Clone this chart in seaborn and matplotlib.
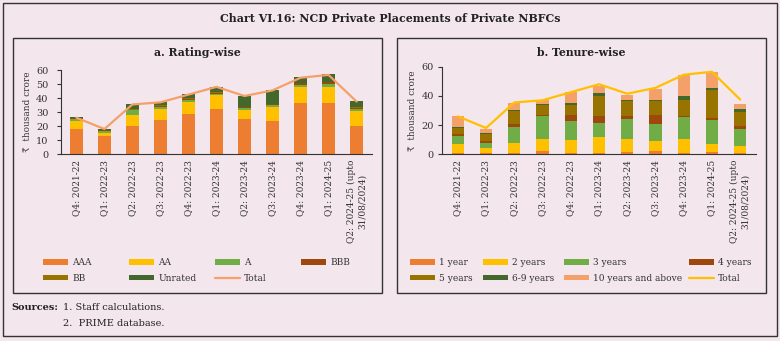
import numpy as np
import pandas as pd
import matplotlib
matplotlib.use("Agg")
import matplotlib.pyplot as plt
from matplotlib.patches import Rectangle, Patch
from matplotlib.lines import Line2D
import seaborn as sns

sns.set_theme(style="white")
plt.rcParams['font.family'] = ['DejaVu Serif', 'DejaVu Sans']

quarters = ["Q4: 2021-22", "Q1: 2022-23", "Q2: 2022-23", "Q3: 2022-23", "Q4: 2022-23",
            "Q1: 2023-24", "Q2: 2023-24", "Q3: 2023-24", "Q4: 2023-24", "Q1: 2024-25",
            "Q2: 2024-25 (upto\n31/08/2024)"]

# Panel a: rating-wise (₹ thousand crore)
aaa = [18.0, 13.0, 20.0, 24.5, 29.0, 32.0, 25.0, 24.0, 36.5, 36.5, 20.0]
aa = [5.5, 2.5, 8.0, 7.5, 8.0, 10.0, 6.7, 9.5, 11.5, 11.5, 11.0]
a_r = [1.5, 1.3, 3.5, 2.0, 2.0, 1.2, 1.2, 1.5, 1.3, 2.0, 1.3]
bbb = [0.5, 0.2, 0.3, 0.3, 0.3, 0.3, 0.5, 0.8, 1.2, 1.5, 0.8]
bb = [0.2, 0.2, 0.7, 0.5, 0.5, 1.0, 0.3, 0.3, 0.3, 0.3, 0.5]
unrated = [0.5, 0.8, 3.0, 2.5, 3.0, 3.5, 8.0, 9.5, 4.2, 5.2, 4.0]
total = [26.0, 18.0, 35.5, 37.0, 42.5, 48.0, 41.5, 45.5, 54.5, 56.5, 37.5]

# Panel b: tenure-wise (₹ thousand crore)
y1 = [1.0, 0.7, 0.8, 2.3, 0.7, 0.8, 1.8, 2.5, 1.2, 1.8, 0.6]
y2 = [6.0, 3.4, 6.7, 8.4, 8.9, 11.1, 8.5, 6.6, 9.1, 5.3, 4.9]
y3 = [5.7, 3.6, 11.2, 15.5, 13.1, 9.6, 14.1, 11.5, 15.1, 16.6, 11.9]
y4 = [1.0, 1.5, 2.3, 0.4, 4.1, 4.8, 1.9, 6.1, 1.1, 0.9, 1.8]
y5 = [4.3, 5.0, 8.6, 6.9, 7.3, 13.7, 10.5, 10.1, 10.8, 19.5, 9.8]
y69 = [0.7, 0.4, 1.0, 0.7, 0.9, 2.3, 0.4, 0.6, 2.9, 1.4, 2.3]
y10 = [7.3, 3.0, 4.3, 2.9, 7.5, 4.7, 3.7, 7.2, 13.8, 10.9, 3.2]

BG = "#F3E6EC"
W, H = 780, 341
fig = plt.figure(figsize=(W / 100, H / 100), dpi=100, facecolor=BG)

def fx(px): return px / W
def fy(py): return 1 - py / H

# frames
fig.patches.append(Rectangle((fx(3), fy(336)), fx(774), 333 / H, transform=fig.transFigure,
                             fill=False, edgecolor="#333333", lw=1.0))
fig.patches.append(Rectangle((fx(13), fy(292.5)), fx(369), 255 / H, transform=fig.transFigure,
                             fill=False, edgecolor="#333333", lw=1.0))
fig.patches.append(Rectangle((fx(397), fy(292.5)), fx(369), 255 / H, transform=fig.transFigure,
                             fill=False, edgecolor="#333333", lw=1.0))

fig.text(fx(390), fy(18), "Chart VI.16: NCD Private Placements of Private NBFCs",
         ha="center", va="center", fontsize=7.9, fontweight="bold", color="#222222")

n = len(quarters)
xs = np.arange(n)

def style_axis(ax, ymax, step, ypad):
    ax.set_facecolor(BG)
    ax.set_xlim(-0.55, n - 0.45)
    ax.set_ylim(0, ymax)
    for s in ["top", "right"]:
        ax.spines[s].set_visible(False)
    for s in ["left", "bottom"]:
        ax.spines[s].set_color("#333333")
        ax.spines[s].set_linewidth(0.8)
    ax.set_yticks(np.arange(0, ymax + 1, step))
    ax.set_xticks(xs)
    ax.set_xticklabels(quarters, rotation=90, fontsize=6.5, color="#333333", linespacing=1.3)
    ax.set_xticks(np.arange(-0.5, n, 1.0), minor=True)
    ax.tick_params(axis="x", which="major", length=0, pad=4)
    ax.tick_params(axis="x", which="minor", length=3, width=0.8, color="#333333", direction="out")
    ax.tick_params(axis="y", length=3, width=0.8, color="#333333", direction="out",
                   labelsize=7, labelcolor="#333333", pad=ypad, left=True)
    ax.set_xlabel("")
    ax.set_ylabel("₹  thousand crore", fontsize=6.4, color="#333333", labelpad=3)
    ax.grid(False)

def stacked(ax, layers, colors, width):
    bottom = np.zeros(n)
    for vals, col in zip(layers, colors):
        df = pd.DataFrame({"x": xs, "y": vals})
        sns.barplot(data=df, x="x", y="y", ax=ax, color=col, width=width,
                    bottom=bottom, saturation=1, native_scale=True, edgecolor="none")
        bottom = bottom + np.array(vals)

# Panel a
ax1 = fig.add_axes([fx(61), fy(154.3), fx(372 - 61), (154.3 - 70) / H])
cols_a = ["#ED7D31", "#FFC000", "#70AD47", "#9E480E", "#997300", "#43682B"]
stacked(ax1, [aaa, aa, a_r, bbb, bb, unrated], cols_a, 0.45)
sns.lineplot(x=xs, y=total, ax=ax1, color="#F4A06A", lw=1.6)
style_axis(ax1, 60, 10, 6)
fig.text(fx(197), fy(53), "a. Rating-wise", ha="center", va="center", fontsize=7.8,
         fontweight="bold", color="#222222")

# Panel b
ax2 = fig.add_axes([fx(442.3), fy(154.3), fx(755.7 - 442.3), (154.3 - 66.7) / H])
cols_b = ["#ED7D31", "#FFC000", "#70AD47", "#9E480E", "#997300", "#43682B", "#F4A06A"]
stacked(ax2, [y1, y2, y3, y4, y5, y69, y10], cols_b, 0.43)
sns.lineplot(x=xs, y=total, ax=ax2, color="#FFC000", lw=1.6)
style_axis(ax2, 60, 20, 3)
fig.text(fx(581), fy(53), "b. Tenure-wise", ha="center", va="center", fontsize=7.8,
         fontweight="bold", color="#222222")

# Legends (one per column so the columns sit where the reference puts them)
def P(c, l): return Patch(facecolor=c, edgecolor="none", label=l)

cols_a_leg = [
    (43, [P("#ED7D31", "AAA"), P("#997300", "BB")]),
    (129, [P("#FFC000", "AA"), P("#43682B", "Unrated")]),
    (215, [P("#70AD47", "A"), Line2D([], [], color="#F4A06A", lw=1.6, label="Total")]),
    (301, [P("#9E480E", "BBB")]),
]
cols_b_leg = [
    (410, [P("#ED7D31", "1 year"), P("#997300", "5 years")]),
    (483, [P("#FFC000", "2 years"), P("#43682B", "6-9 years")]),
    (564, [P("#70AD47", "3 years"), P("#F4A06A", "10 years and above")]),
    (689, [P("#9E480E", "4 years"), Line2D([], [], color="#FFC000", lw=1.6, label="Total")]),
]
for xpx, hs in cols_a_leg + cols_b_leg:
    leg = fig.legend(handles=hs, ncol=1, loc="upper left", bbox_to_anchor=(fx(xpx), fy(258)),
                     frameon=False, fontsize=6.5, handlelength=2.8, handleheight=0.6,
                     handletextpad=0.45, labelspacing=0.75, borderaxespad=0, borderpad=0)
    for t in leg.get_texts():
        t.set_color("#333333")

fig.text(fx(11), fy(308), "Sources:", ha="left", va="center", fontsize=7, fontweight="bold",
         color="#222222")
fig.text(fx(63), fy(308), "1. Staff calculations.", ha="left", va="center", fontsize=7,
         color="#222222")
fig.text(fx(63), fy(323), "2.  PRIME database.", ha="left", va="center", fontsize=7,
         color="#222222")

fig.savefig("out.png", dpi=100, facecolor=BG)
